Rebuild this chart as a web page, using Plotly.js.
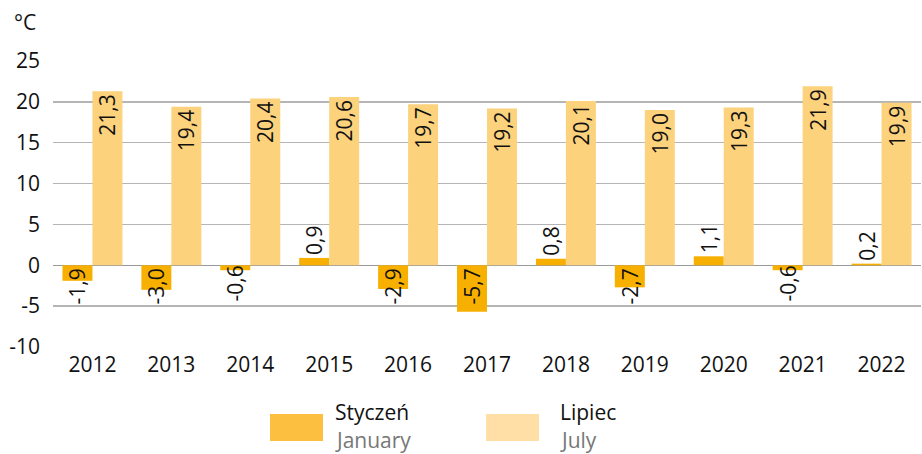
<!DOCTYPE html>
<html>
<head>
<meta charset="utf-8">
<script src="https://cdn.plot.ly/plotly-3.0.1.min.js"></script>
<style>html,body{margin:0;padding:0;background:#fff;}#chart{width:922px;height:454px;}</style>
</head>
<body>
<div id="chart"></div>
<script>
const years = ['2012','2013','2014','2015','2016','2017','2018','2019','2020','2021','2022'];
const january = [-1.9, -3.0, -0.6, 0.9, -2.9, -5.7, 0.8, -2.7, 1.1, -0.6, 0.2];
const july = [21.3, 19.4, 20.4, 20.6, 19.7, 19.2, 20.1, 19.0, 19.3, 21.9, 19.9];
const yTicks = [-10, -5, 0, 5, 10, 15, 20, 25];
const yTickText = ['-10', '-5', '0', '5', '10', '15', '20', '25'];

const FONT = 'Open Sans, Noto Sans, sans-serif';
const FS = 21;
const fmt = v => v.toFixed(1).replace('.', ',').replace('\u2212', '-');
const janColor = '#F8B000';
const julColor = '#FCD27D';

const traces = [
  {
    type: 'bar', x: years, y: january, name: 'Styczeń',
    marker: {color: janColor},
    text: january.map(fmt),
    textposition: january.map(v => v < 0 ? 'inside' : 'outside'),
    insidetextanchor: 'start',
    textangle: -90,
    textfont: {family: FONT, size: FS, color: '#111'},
    outsidetextfont: {family: FONT, size: FS, color: '#111'},
    insidetextfont: {family: FONT, size: FS, color: '#111'},
    constraintext: 'none',
    cliponaxis: false,
    hoverinfo: 'none'
  },
  {
    type: 'bar', x: years, y: july, name: 'Lipiec',
    marker: {color: julColor},
    text: july.map(fmt),
    textposition: 'inside',
    insidetextanchor: 'end',
    textangle: -90,
    textfont: {family: FONT, size: FS, color: '#111'},
    insidetextfont: {family: FONT, size: FS, color: '#111'},
    constraintext: 'none',
    hoverinfo: 'none'
  }
];

const layout = {
  width: 922, height: 454,
  margin: {l: 53, r: 1, t: 61, b: 107},
  paper_bgcolor: '#fff', plot_bgcolor: '#fff',
  showlegend: false,
  barmode: 'group', bargap: 0.24, bargroupgap: 0,
  uniformtext: {mode: 'show', minsize: FS},
  font: {family: FONT, size: FS, color: '#111'},
  xaxis: {
    type: 'category', showgrid: false, zeroline: false, showline: false,
    ticks: '', tickfont: {family: FONT, size: FS, color: '#111'}, ticklabelstandoff: 3
  },
  yaxis: {
    range: [-10, 25], tickvals: yTicks, ticktext: yTickText,
    showgrid: true, gridcolor: '#b5b5b5', gridwidth: 1.5,
    zeroline: true, zerolinecolor: '#9a9a9a', zerolinewidth: 1.5,
    showline: false, ticks: '', ticklabelstandoff: 12,
    tickfont: {family: FONT, size: FS, color: '#111'}
  },
  shapes: [
    {type: 'rect', xref: 'paper', yref: 'paper', x0: (270-53)/868, x1: (323-53)/868, y0: -(441-347)/286, y1: -(414-347)/286, fillcolor: '#FDBF3F', line: {width: 0}},
    {type: 'rect', xref: 'paper', yref: 'paper', x0: (486-53)/868, x1: (539-53)/868, y0: -(441-347)/286, y1: -(414-347)/286, fillcolor: '#FFDFA5', line: {width: 0}}
  ],
  annotations: [
    {xref: 'paper', yref: 'paper', x: (12-53)/868, y: (347-22)/286, xanchor: 'left', yanchor: 'middle', text: '°C', showarrow: false, font: {family: FONT, size: FS, color: '#111'}},
    {xref: 'paper', yref: 'paper', x: (333-53)/868, y: -(412-347)/286, xanchor: 'left', yanchor: 'middle', text: 'Styczeń', showarrow: false, font: {family: FONT, size: FS, color: '#111'}},
    {xref: 'paper', yref: 'paper', x: (333-53)/868, y: -(440-347)/286, xanchor: 'left', yanchor: 'middle', text: 'January', showarrow: false, font: {family: FONT, size: FS, color: '#777'}},
    {xref: 'paper', yref: 'paper', x: (558-53)/868, y: -(412-347)/286, xanchor: 'left', yanchor: 'middle', text: 'Lipiec', showarrow: false, font: {family: FONT, size: FS, color: '#111'}},
    {xref: 'paper', yref: 'paper', x: (558-53)/868, y: -(440-347)/286, xanchor: 'left', yanchor: 'middle', text: 'July', showarrow: false, font: {family: FONT, size: FS, color: '#777'}}
  ]
};

Plotly.newPlot('chart', traces, layout, {displayModeBar: false, staticPlot: true});
</script>
</body>
</html>
